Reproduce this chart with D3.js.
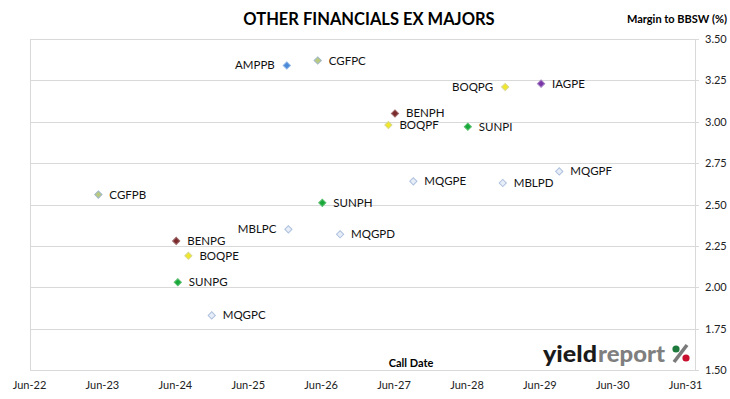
<!DOCTYPE html>
<html lang="en">
<head>
    <meta charset="UTF-8">
    <title>Other Financials ex Majors</title>
    <script src="https://d3js.org/d3.v7.min.js"></script>
    <style>
        body { margin: 0; background: #fff; font-family: Lato, "Open Sans", sans-serif; }
        .grid line { stroke: #d9d9d9; stroke-width: 1; }
        .pt-label { font-size: 11.5px; fill: #111; }
        .axis-label { font-size: 11px; fill: #222; }
    </style>
</head>
<body>
    <svg width="730" height="399"></svg>
    <script>
        // bond codes, call dates and margins
        const codes = ["AMPPB", "CGFPC", "BOQPG", "IAGPE", "BENPH", "BOQPF", "SUNPI", "MQGPE", "MBLPD",
                       "MQGPF", "CGFPB", "BENPG", "BOQPE", "MBLPC", "SUNPH", "MQGPD", "SUNPG", "MQGPC"];
        const callDates = ["2025-12-11", "2026-05-15", "2028-12-09", "2029-06-07", "2027-06-06", "2027-05-04",
                           "2028-06-05", "2027-09-06", "2028-11-27", "2029-09-06", "2023-05-12", "2024-06-05",
                           "2024-08-05", "2025-12-19", "2026-06-07", "2026-09-04", "2024-06-13", "2024-11-30"];
        const margins = [3.34, 3.37, 3.21, 3.23, 3.05, 2.98, 2.97, 2.64, 2.63,
                         2.70, 2.56, 2.28, 2.19, 2.35, 2.51, 2.32, 2.03, 1.83];

        const xTickDates = ["2022-06-01", "2023-06-01", "2024-06-01", "2025-06-01", "2026-06-01",
                            "2027-06-01", "2028-06-01", "2029-06-01", "2030-06-01", "2031-06-01"];
        const xTickLabels = ["Jun-22", "Jun-23", "Jun-24", "Jun-25", "Jun-26",
                             "Jun-27", "Jun-28", "Jun-29", "Jun-30", "Jun-31"];
        const yTicks = [1.50, 1.75, 2.00, 2.25, 2.50, 2.75, 3.00, 3.25, 3.50];

        const parse = d3.timeParse("%Y-%m-%d");
        const data = codes.map((c, i) => ({ code: c, date: parse(callDates[i]), margin: margins[i] }));

        // colour per issuer
        const issuerColor = {
            AMP: { fill: "#4a8ad8", stroke: "#8db4e8" },
            CGF: { fill: "#b9c97e", stroke: "#9fb8c8" },
            BOQ: { fill: "#f0e62a", stroke: "#d8d890" },
            IAG: { fill: "#7a35a8", stroke: "#a27cc0" },
            BEN: { fill: "#7a2a2a", stroke: "#a06a6a" },
            SUN: { fill: "#19a83a", stroke: "#5cc070" },
            MQG: { fill: "#e8eef8", stroke: "#adc0de" },
            MBL: { fill: "#e8eef8", stroke: "#adc0de" }
        };
        const leftLabels = new Set(["AMPPB", "BOQPG", "MBLPC"]);

        const svg = d3.select("svg");
        const plot = { left: 30, right: 695, top: 39, bottom: 370 };

        const x = d3.scaleTime()
            .domain([parse(xTickDates[0]), parse(xTickDates[xTickDates.length - 1])])
            .range([29.5, 685.6]);
        const y = d3.scaleLinear().domain([1.5, 3.5]).range([plot.bottom, plot.top]);

        // gridlines
        svg.append("g").attr("class", "grid")
            .selectAll("line").data(yTicks).enter().append("line")
            .attr("x1", plot.left).attr("x2", plot.right + 4)
            .attr("y1", d => Math.round(y(d)) + 0.5).attr("y2", d => Math.round(y(d)) + 0.5);

        // plot borders (left, right axis)
        svg.append("line").attr("x1", plot.left + 0.5).attr("x2", plot.left + 0.5)
            .attr("y1", plot.top).attr("y2", plot.bottom).attr("stroke", "#d9d9d9");
        svg.append("line").attr("x1", plot.right + 0.5).attr("x2", plot.right + 0.5)
            .attr("y1", plot.top).attr("y2", plot.bottom).attr("stroke", "#d9d9d9");

        // right axis labels
        svg.append("g").selectAll("text").data(yTicks).enter().append("text")
            .attr("class", "axis-label")
            .attr("x", 705)
            .attr("y", d => y(d) + 4)
            .text(d => d.toFixed(2));

        // bottom axis labels
        svg.append("g").selectAll("text").data(xTickDates).enter().append("text")
            .attr("class", "axis-label")
            .attr("text-anchor", "middle")
            .attr("x", d => x(parse(d)))
            .attr("y", 389)
            .text((d, i) => xTickLabels[i]);

        // titles
        svg.append("text")
            .attr("x", 369).attr("y", 25)
            .attr("text-anchor", "middle")
            .style("font-size", "16.5px").style("font-weight", "bold").style("fill", "#000")
            .text("OTHER FINANCIALS EX MAJORS");

        svg.append("text")
            .attr("x", 727).attr("y", 23)
            .attr("text-anchor", "end")
            .style("font-size", "11px").style("font-weight", "bold").style("fill", "#000")
            .text("Margin to BBSW (%)");

        svg.append("text")
            .attr("x", 411).attr("y", 367)
            .attr("text-anchor", "middle")
            .style("font-size", "11px").style("font-weight", "bold").style("fill", "#000")
            .text("Call Date");

        // logo
        const logo = svg.append("g");
        logo.append("text").attr("x", 543).attr("y", 362)
            .style("font-size", "22px").style("font-weight", "900").style("fill", "#1a1a1a")
            .attr("textLength", 54).attr("lengthAdjust", "spacingAndGlyphs")
            .text("yield");
        logo.append("text").attr("x", 598).attr("y", 362)
            .style("font-size", "22px").style("font-weight", "900").style("fill", "#7f7f7f")
            .attr("textLength", 67).attr("lengthAdjust", "spacingAndGlyphs")
            .text("report");
        logo.append("line").attr("x1", 674).attr("y1", 362).attr("x2", 687).attr("y2", 345)
            .attr("stroke", "#7a7a7a").attr("stroke-width", 3.6);
        logo.append("circle").attr("cx", 676).attr("cy", 349).attr("r", 3.6).attr("fill", "#1e7a3c");
        logo.append("circle").attr("cx", 686).attr("cy", 358).attr("r", 3.6).attr("fill", "#c8102e");

        // markers
        const diamond = d3.symbol().type(d3.symbolSquare).size(26);
        svg.append("g").selectAll("path").data(data).enter().append("path")
            .attr("d", diamond)
            .attr("transform", d => `translate(${x(d.date)},${y(d.margin)}) rotate(45)`)
            .attr("fill", d => issuerColor[d.code.slice(0, 3)].fill)
            .attr("stroke", d => issuerColor[d.code.slice(0, 3)].stroke)
            .attr("stroke-width", 1);

        // labels
        svg.append("g").selectAll("text").data(data).enter().append("text")
            .attr("class", "pt-label")
            .attr("x", d => leftLabels.has(d.code) ? x(d.date) - 12 : x(d.date) + 11)
            .attr("y", d => y(d.margin) + 4)
            .attr("text-anchor", d => leftLabels.has(d.code) ? "end" : "start")
            .text(d => d.code);
    </script>
</body>
</html>
